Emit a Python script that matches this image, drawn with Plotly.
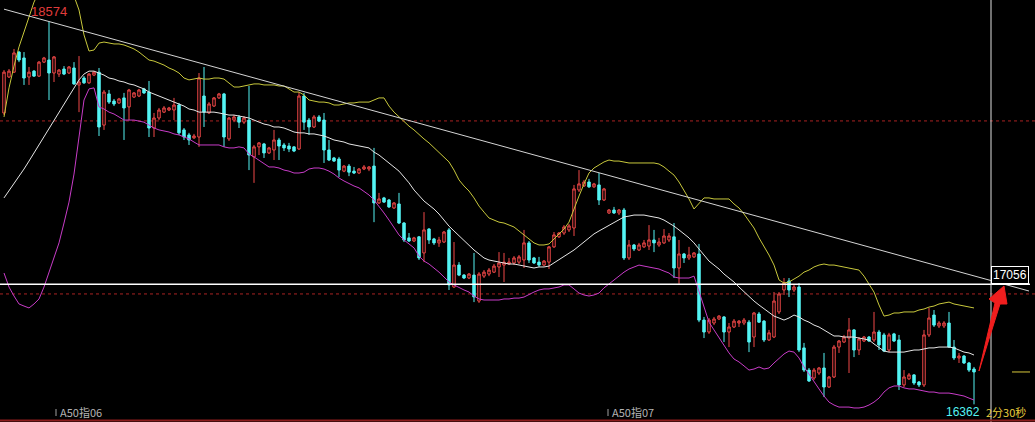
import plotly.graph_objects as go

# ---------------- data ----------------
opens = [18046, 18254, 18282, 18398, 18364, 18254, 18288, 18259, 18340, 18352,
         18277, 18271, 18300, 18277, 18306, 18208, 18248, 18220, 18265, 18282,
         17976, 18156, 18115, 18104, 18133, 18081, 18138, 18144, 18185, 18167,
         17959, 18017, 18051, 18063, 18063, 18092, 17948, 17919, 17902, 17907,
         18144, 18046, 18086, 18133, 18156, 17896, 18005, 18023, 17993, 18005,
         17792, 17850, 17867, 17815, 17832, 17890, 17861, 17855, 17850, 17838,
         18144, 18005, 17965, 18023, 18005, 17832, 17786, 17780, 17710, 17739,
         17710, 17699, 17722, 17722, 17739, 17526, 17555, 17543, 17497, 17520,
         17410, 17324, 17306, 17330, 17237, 17375, 17318, 17295, 17300, 17370,
         17040, 17167, 17109, 17092, 17109, 16959, 17103, 17115, 17126, 17156,
         17167, 17173, 17179, 17184, 17196, 17295, 17208, 17184, 17167, 17184,
         17272, 17330, 17352, 17370, 17381, 17601, 17624, 17647, 17619, 17630,
         17543, 17468, 17485, 17468, 17485, 17208, 17283, 17254, 17272, 17277,
         17312, 17283, 17295, 17312, 17330, 17150, 17231, 17208, 17214, 17231,
         16849, 16780, 16832, 16855, 16867, 16780, 16809, 16832, 16832, 16837,
         16751, 16884, 16843, 16734, 16751, 16896, 17023, 17075, 17023, 17040,
         16688, 16560, 16514, 16543, 16572, 16462, 16520, 16693, 16722, 16745,
         16792, 16676, 16728, 16751, 16734, 16780, 16763, 16676, 16769, 16734,
         16474, 16509, 16532, 16491, 16474, 16763, 16878, 16815, 16815, 16832,
         16693, 16630, 16641, 16601, 16566]
highs = [18294, 18300, 18416, 18404, 18398, 18312, 18294, 18346, 18370, 18574,
         18375, 18300, 18317, 18317, 18340, 18375, 18259, 18277, 18288, 18306,
         18179, 18179, 18127, 18133, 18162, 18185, 18167, 18185, 18191, 18231,
         18046, 18075, 18086, 18081, 18133, 18104, 17959, 17931, 17925, 18277,
         18312, 18109, 18138, 18162, 18162, 18023, 18034, 18034, 18028, 18202,
         17861, 17878, 17873, 17850, 17948, 17902, 17873, 17873, 17855, 18167,
         18162, 18017, 18034, 18034, 18046, 17890, 17792, 17792, 17745, 17751,
         17734, 17728, 17745, 17739, 17844, 17584, 17561, 17549, 17531, 17584,
         17415, 17352, 17330, 17335, 17473, 17381, 17324, 17330, 17364, 17381,
         17300, 17184, 17115, 17121, 17237, 17126, 17138, 17150, 17173, 17242,
         17237, 17208, 17219, 17225, 17370, 17306, 17214, 17214, 17196, 17277,
         17358, 17358, 17398, 17404, 17630, 17716, 17659, 17665, 17642, 17699,
         17613, 17491, 17503, 17491, 17497, 17312, 17289, 17295, 17312, 17398,
         17370, 17324, 17375, 17352, 17410, 17312, 17237, 17272, 17242, 17289,
         16867, 16861, 16867, 16878, 16872, 16832, 16855, 16849, 16861, 16849,
         16896, 16896, 16849, 16792, 17011, 17011, 17092, 17092, 17052, 17063,
         16717, 16572, 16572, 16578, 16659, 16526, 16705, 16734, 16763, 16861,
         16797, 16751, 16757, 16757, 16896, 16792, 16775, 16775, 16775, 16763,
         16560, 16543, 16537, 16497, 16792, 16919, 16907, 16843, 16843, 16896,
         16734, 16659, 16647, 16607, 16578]
lows = [18034, 18248, 18277, 18340, 18208, 18208, 18254, 18254, 18335, 18121,
        18225, 18254, 18265, 18271, 18208, 18051, 18214, 18214, 18259, 17913,
        17948, 18098, 18086, 18098, 17890, 18005, 18133, 18138, 18156, 17907,
        17907, 18005, 18046, 18057, 18005, 17919, 17890, 17861, 17896, 17850,
        17965, 18040, 18081, 18127, 17850, 17884, 17993, 17959, 17982, 17716,
        17642, 17803, 17786, 17809, 17774, 17774, 17826, 17820, 17820, 17832,
        17948, 17919, 17959, 17993, 17757, 17768, 17763, 17676, 17704, 17681,
        17693, 17693, 17716, 17710, 17415, 17520, 17526, 17497, 17491, 17404,
        17300, 17300, 17300, 17196, 17184, 17289, 17283, 17272, 17295, 17023,
        17035, 17103, 17086, 17086, 16953, 16948, 17092, 17103, 17121, 17098,
        17069, 17167, 17167, 17173, 17150, 17179, 17173, 17156, 17161, 17144,
        17266, 17324, 17341, 17358, 17335, 17589, 17619, 17613, 17613, 17514,
        17537, 17462, 17462, 17456, 17196, 17196, 17248, 17248, 17266, 17254,
        17242, 17272, 17289, 17300, 17092, 17058, 17179, 17196, 17208, 16837,
        16745, 16769, 16820, 16849, 16722, 16693, 16803, 16809, 16820, 16664,
        16693, 16832, 16722, 16728, 16745, 16884, 16994, 16982, 17011, 16664,
        16549, 16491, 16503, 16532, 16404, 16457, 16514, 16659, 16717, 16543,
        16635, 16647, 16722, 16722, 16722, 16676, 16664, 16664, 16722, 16445,
        16462, 16503, 16474, 16462, 16462, 16751, 16809, 16803, 16803, 16688,
        16618, 16601, 16595, 16549, 16362]
closes = [18282, 18288, 18393, 18352, 18248, 18282, 18259, 18340, 18364, 18277,
          18370, 18294, 18271, 18312, 18214, 18225, 18220, 18271, 18282, 17965,
          18167, 18109, 18098, 18127, 18075, 18179, 18162, 18179, 18162, 17959,
          18017, 18063, 18075, 18075, 18092, 17931, 17907, 17890, 17913, 18248,
          18051, 18098, 18133, 18156, 17907, 18017, 18023, 17993, 18017, 17803,
          17850, 17873, 17815, 17844, 17890, 17855, 17844, 17838, 17826, 18144,
          17993, 17965, 18023, 17999, 17832, 17774, 17768, 17716, 17739, 17704,
          17699, 17722, 17734, 17734, 17526, 17549, 17531, 17503, 17526, 17410,
          17312, 17306, 17324, 17208, 17370, 17312, 17295, 17312, 17358, 17052,
          17167, 17109, 17092, 17115, 16983, 17115, 17126, 17138, 17161, 17179,
          17184, 17184, 17208, 17214, 17295, 17196, 17179, 17167, 17190, 17272,
          17341, 17352, 17387, 17393, 17607, 17636, 17647, 17619, 17636, 17543,
          17607, 17485, 17468, 17485, 17208, 17283, 17260, 17283, 17295, 17312,
          17295, 17300, 17335, 17335, 17150, 17231, 17208, 17225, 17237, 16849,
          16780, 16849, 16855, 16872, 16780, 16809, 16843, 16843, 16849, 16722,
          16890, 16837, 16734, 16775, 16959, 17000, 17063, 17023, 17040, 16676,
          16560, 16497, 16560, 16572, 16462, 16520, 16693, 16728, 16751, 16792,
          16676, 16740, 16751, 16728, 16780, 16705, 16670, 16763, 16728, 16474,
          16520, 16532, 16485, 16474, 16763, 16861, 16820, 16832, 16832, 16693,
          16630, 16641, 16601, 16560, 16549]
boll_mid = [17555, 17595, 17636, 17681, 17722, 17768, 17815, 17861, 17907, 17953,
            17999, 18046, 18092, 18138, 18191, 18237, 18271, 18288, 18288, 18277,
            18265, 18248, 18242, 18231, 18225, 18214, 18208, 18196, 18185, 18167,
            18156, 18144, 18133, 18121, 18109, 18098, 18086, 18069, 18063, 18051,
            18051, 18051, 18051, 18046, 18040, 18034, 18034, 18028, 18023, 18017,
            18005, 17993, 17982, 17976, 17965, 17965, 17959, 17948, 17936, 17931,
            17931, 17925, 17925, 17919, 17913, 17902, 17890, 17884, 17878, 17867,
            17861, 17855, 17850, 17844, 17820, 17803, 17780, 17757, 17734, 17710,
            17676, 17642, 17601, 17566, 17537, 17514, 17491, 17462, 17427, 17392,
            17364, 17335, 17306, 17277, 17254, 17231, 17208, 17196, 17190, 17184,
            17179, 17173, 17173, 17167, 17161, 17156, 17150, 17156, 17156, 17161,
            17179, 17202, 17219, 17237, 17254, 17277, 17300, 17324, 17347, 17364,
            17381, 17398, 17415, 17433, 17445, 17450, 17456, 17456, 17456, 17450,
            17445, 17439, 17427, 17410, 17392, 17370, 17347, 17324, 17295, 17260,
            17225, 17190, 17167, 17144, 17115, 17092, 17069, 17040, 17011, 16982,
            16959, 16936, 16913, 16890, 16872, 16861, 16849, 16861, 16878, 16867,
            16849, 16837, 16820, 16809, 16792, 16775, 16757, 16757, 16751, 16751,
            16751, 16745, 16740, 16734, 16711, 16688, 16670, 16664, 16664, 16664,
            16664, 16670, 16676, 16676, 16682, 16688, 16688, 16693, 16693, 16693,
            16688, 16676, 16664, 16659, 16647]
boll_upper = [18023, 18191, 18317, 18428, 18514, 18601, 18687, 18745, 18791, 18826,
              18849, 18855, 18838, 18791, 18722, 18641, 18497, 18404, 18410, 18450,
              18456, 18450, 18445, 18445, 18439, 18428, 18416, 18398, 18375, 18352,
              18346, 18335, 18323, 18306, 18294, 18277, 18248, 18237, 18242, 18248,
              18242, 18242, 18248, 18248, 18242, 18220, 18196, 18196, 18202, 18208,
              18214, 18214, 18208, 18208, 18208, 18202, 18202, 18185, 18167, 18167,
              18150, 18121, 18115, 18109, 18109, 18104, 18092, 18092, 18098, 18104,
              18104, 18109, 18109, 18109, 18121, 18133, 18133, 18086, 18051, 18023,
              17999, 17970, 17948, 17919, 17896, 17873, 17844, 17820, 17792, 17763,
              17716, 17659, 17624, 17595, 17555, 17508, 17473, 17439, 17427, 17415,
              17410, 17398, 17387, 17364, 17341, 17318, 17295, 17283, 17283, 17289,
              17318, 17347, 17375, 17415, 17497, 17566, 17636, 17699, 17728, 17745,
              17763, 17774, 17768, 17768, 17763, 17757, 17757, 17757, 17757, 17757,
              17757, 17751, 17734, 17710, 17687, 17647, 17601, 17549, 17491, 17526,
              17555, 17555, 17549, 17549, 17549, 17549, 17520, 17497, 17462, 17421,
              17381, 17324, 17277, 17225, 17167, 17081, 17063, 17069, 17086, 17103,
              17126, 17138, 17156, 17167, 17173, 17167, 17167, 17161, 17156, 17150,
              17144, 17138, 17103, 17058, 17011, 16936, 16872, 16878, 16890, 16890,
              16896, 16896, 16896, 16907, 16913, 16924, 16930, 16942, 16948, 16953,
              16942, 16936, 16930, 16924, 16919]
boll_lower = [17121, 17040, 16988, 16942, 16930, 16919, 16942, 16971, 17040, 17121,
              17208, 17295, 17410, 17531, 17693, 17919, 18121, 18185, 18191, 18081,
              18069, 18051, 18040, 18023, 18005, 18005, 18005, 17999, 17993, 17976,
              17959, 17948, 17942, 17936, 17925, 17919, 17907, 17896, 17878, 17861,
              17861, 17861, 17861, 17861, 17850, 17844, 17844, 17850, 17844, 17809,
              17792, 17774, 17757, 17734, 17734, 17728, 17716, 17710, 17699, 17699,
              17704, 17722, 17728, 17728, 17722, 17710, 17693, 17670, 17653, 17636,
              17624, 17613, 17595, 17572, 17543, 17508, 17468, 17427, 17387, 17341,
              17312, 17289, 17266, 17219, 17190, 17173, 17150, 17126, 17098, 17069,
              17052, 17035, 17023, 17011, 16988, 16971, 16965, 16965, 16965, 16965,
              16971, 16971, 16976, 16976, 16982, 16999, 17011, 17023, 17029, 17029,
              17035, 17040, 17052, 17052, 17029, 17005, 16994, 16988, 16994, 17005,
              17035, 17058, 17081, 17103, 17126, 17144, 17156, 17167, 17161, 17156,
              17150, 17144, 17132, 17121, 17098, 17092, 17092, 17092, 17103, 17017,
              16924, 16837, 16792, 16745, 16699, 16659, 16624, 16607, 16584, 16560,
              16566, 16578, 16566, 16572, 16601, 16630, 16653, 16670, 16664, 16630,
              16578, 16537, 16491, 16451, 16410, 16375, 16358, 16346, 16346, 16346,
              16341, 16341, 16346, 16358, 16375, 16398, 16433, 16457, 16468, 16468,
              16457, 16451, 16451, 16445, 16439, 16433, 16433, 16427, 16427, 16427,
              16422, 16416, 16410, 16398, 16387]

trend_idx = [0, 205]
trend_price = [18646, 17017]
marked_level = 17056
grid_levels = [18000, 17000]
high_idx, high_text = 9, "18574"
low_idx, low_text = 194, "16362"
month_labels = ["A50指06", "A50指07"]
month_idx = [10.8, 121.2]
countdown_text = "2分30秒"

# ---------------- styling ----------------
W, H = 1035, 422
X0 = -0.8
X1 = X0 + W / 5.0
Y1 = 18699
Y0 = Y1 - 5.78 * H

RED = "#f04848"
CYAN = "#54f4f4"
YEL = "#c8c83c"
WHITE_MID = "#e6e6e6"
MAG = "#c83cc8"


def pxx(x):
    return x / W


def pxy(y):
    return 1 - y / H


idx = list(range(len(opens)))

fig = go.Figure()
fig.add_trace(go.Scatter(x=idx, y=boll_upper, mode="lines",
                         line=dict(color=YEL, width=1), hoverinfo="skip"))
fig.add_trace(go.Scatter(x=idx, y=boll_mid, mode="lines",
                         line=dict(color=WHITE_MID, width=1), hoverinfo="skip"))
fig.add_trace(go.Scatter(x=idx, y=boll_lower, mode="lines",
                         line=dict(color=MAG, width=1), hoverinfo="skip"))
fig.add_trace(go.Scatter(x=trend_idx, y=trend_price, mode="lines",
                         line=dict(color="#d4d4d4", width=1), hoverinfo="skip"))
fig.add_trace(go.Candlestick(
    x=idx, open=opens, high=highs, low=lows, close=closes,
    increasing=dict(line=dict(color=RED, width=1), fillcolor="black"),
    decreasing=dict(line=dict(color=CYAN, width=1), fillcolor=CYAN),
    whiskerwidth=0, hoverinfo="skip"))

shapes = []
for lv in grid_levels:
    shapes.append(dict(type="line", xref="paper", yref="y", x0=0, x1=1, y0=lv, y1=lv,
                       line=dict(color="#a82222", width=1, dash="3px,3px"), layer="below"))
shapes.append(dict(type="line", xref="paper", yref="y", x0=0, x1=pxx(1030),
                   y0=marked_level, y1=marked_level,
                   line=dict(color="white", width=1.5), layer="above"))
# right border of the price pane
shapes.append(dict(type="line", xref="paper", yref="paper", x0=pxx(991), x1=pxx(991),
                   y0=0, y1=1, line=dict(color="#e0e0e0", width=1)))
# last price marker on the price axis
shapes.append(dict(type="line", xref="paper", yref="y", x0=pxx(1012), x1=pxx(1030),
                   y0=closes[-1], y1=closes[-1], line=dict(color="#d8c83c", width=1)))
# bottom axis line
shapes.append(dict(type="line", xref="paper", yref="paper", x0=0, x1=1,
                   y0=pxy(420.5), y1=pxy(420.5), line=dict(color="#8c1c1c", width=2)))
# month tick marks
for mi in month_idx:
    shapes.append(dict(type="line", xref="x", yref="paper", x0=mi - 0.4, x1=mi - 0.4,
                       y0=pxy(416), y1=pxy(409), line=dict(color="#a0a0a0", width=1)))
# red arrow
pts = [(979, 371), (995, 303), (989, 299), (1004, 286), (1007, 304), (1000, 304)]
path = "M " + " L ".join(f"{pxx(a):.5f},{pxy(b):.5f}" for a, b in pts) + " Z"
shapes.append(dict(type="path", xref="paper", yref="paper", path=path,
                   fillcolor="#f01e1e", line=dict(color="#f01e1e", width=1)))

annotations = [
    dict(x=high_idx, y=highs[high_idx], xref="x", yref="y", text=high_text,
         showarrow=False, yanchor="bottom", yshift=1,
         font=dict(family="Liberation Sans", size=13, color="#e03c3c")),
    dict(x=(1010 / 5.0) + X0, y=marked_level, xref="x", yref="y", text="17056",
         showarrow=False, yanchor="bottom", xanchor="center",
         font=dict(family="Liberation Sans", size=12, color="white"),
         bordercolor="white", borderwidth=1, borderpad=1, bgcolor="black"),
    dict(x=pxx(982), y=pxy(412), xref="paper", yref="paper", text=low_text,
         showarrow=False, xanchor="right", yanchor="middle",
         font=dict(family="Liberation Sans", size=12, color=CYAN)),
    dict(x=pxx(984), y=pxy(412), xref="paper", yref="paper", text=countdown_text,
         showarrow=False, xanchor="left", yanchor="middle",
         font=dict(family="Noto Sans CJK SC", size=11, color="#e8cc3c")),
]
for lab, mi in zip(month_labels, month_idx):
    annotations.append(dict(x=mi, y=pxy(412), xref="x", yref="paper", text=lab,
                            showarrow=False, xanchor="left", yanchor="middle",
                            font=dict(family="Noto Sans CJK SC", size=11, color="#b4b4b4")))

fig.update_layout(
    width=W, height=H,
    margin=dict(l=0, r=0, t=0, b=0, pad=0),
    paper_bgcolor="black", plot_bgcolor="black",
    showlegend=False,
    xaxis=dict(range=[X0, X1], visible=False, fixedrange=True,
               rangeslider=dict(visible=False)),
    yaxis=dict(range=[Y0, Y1], visible=False, fixedrange=True),
    shapes=shapes, annotations=annotations,
    hovermode=False,
)

fig.write_html("out.html", config=dict(displayModeBar=False, staticPlot=True),
               post_script="document.body.style.margin='0px';document.body.style.background='black';")
